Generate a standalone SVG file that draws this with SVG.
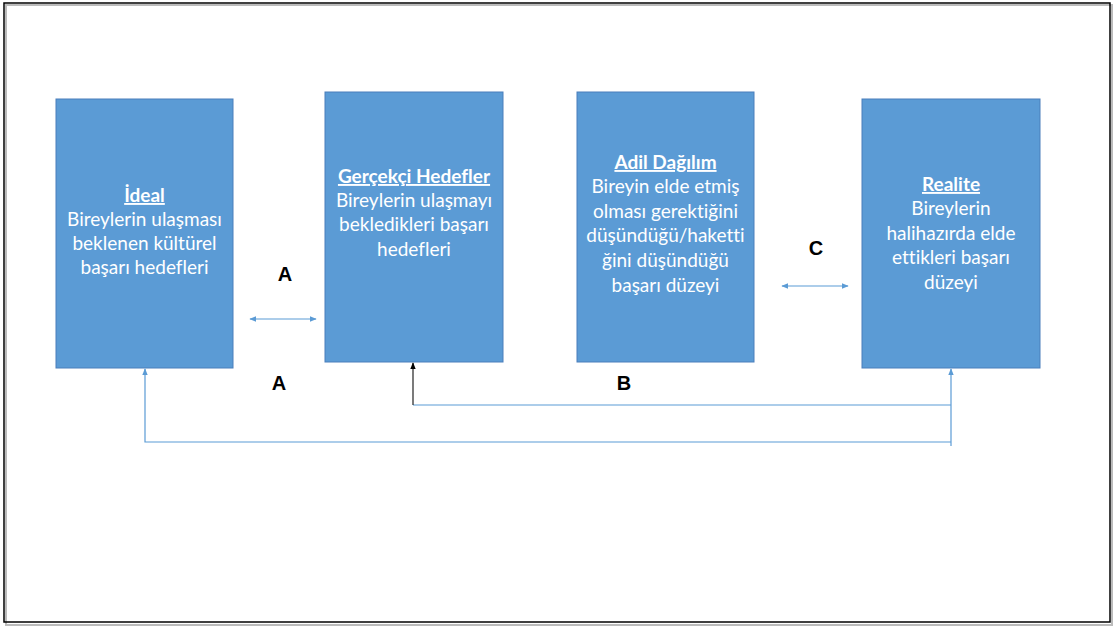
<svg xmlns="http://www.w3.org/2000/svg" width="1115" height="628" viewBox="0 0 1115 628">
<defs>
<style>
.box{fill:#5B9BD5;stroke:#4A7EBB;stroke-width:1}
.t{font-family:Lato,"Open Sans",sans-serif;font-size:19px;fill:#fff;text-anchor:middle;font-variant-ligatures:none}
.h{font-weight:bold;text-decoration:underline}
.c{fill:none;stroke:#5B9BD5;stroke-width:1.2}
.lbl{font-family:"Liberation Sans",Arial,sans-serif;font-weight:bold;font-size:20px;fill:#000;text-anchor:middle}
</style>
<marker id="ab" viewBox="0 0 10 10" refX="9" refY="5" markerWidth="7" markerHeight="7" orient="auto-start-reverse" markerUnits="userSpaceOnUse"><path d="M0,1 L10,5 L0,9 z" fill="#5B9BD5"/></marker>
<marker id="ak" viewBox="0 0 10 10" refX="9" refY="5" markerWidth="7" markerHeight="7" orient="auto" markerUnits="userSpaceOnUse"><path d="M0,1 L10,5 L0,9 z" fill="#000"/></marker>
</defs>
<rect x="0" y="0" width="1115" height="628" fill="#fff"/>
<rect x="6" y="5" width="1106" height="620" fill="none" stroke="#bbb" stroke-width="2"/>
<rect x="4" y="3" width="1106" height="619" fill="none" stroke="#000" stroke-width="1.5"/>

<g id="ideal">
<rect class="box" x="56" y="99" width="177" height="269"/>
<text class="t" x="144.5"><tspan class="h" x="144.5" y="202">İdeal</tspan><tspan x="144.5" y="226">Bireylerin ulaşması</tspan><tspan x="144.5" y="250">beklenen kültürel</tspan><tspan x="144.5" y="274">başarı hedefleri</tspan></text>
</g>
<g id="gercekci">
<rect class="box" x="325" y="92" width="178" height="270"/>
<text class="t" x="414"><tspan class="h" x="414" y="183">Gerçekçi Hedefler</tspan><tspan x="414" y="207">Bireylerin ulaşmayı</tspan><tspan x="414" y="231">bekledikleri başarı</tspan><tspan x="414" y="256">hedefleri</tspan></text>
</g>
<g id="adil">
<rect class="box" x="577" y="92" width="177" height="270"/>
<text class="t" x="665.5"><tspan class="h" x="665.5" y="169">Adil Dağılım</tspan><tspan x="665.5" y="193">Bireyin elde etmiş</tspan><tspan x="665.5" y="218">olması gerektiğini</tspan><tspan x="665.5" y="242">düşündüğü/haketti</tspan><tspan x="665.5" y="267">ğini düşündüğü</tspan><tspan x="665.5" y="292">başarı düzeyi</tspan></text>
</g>
<g id="realite">
<rect class="box" x="862" y="99" width="178" height="269"/>
<text class="t" x="951"><tspan class="h" x="951" y="191">Realite</tspan><tspan x="951" y="215">Bireylerin</tspan><tspan x="951" y="240">halihazırda elde</tspan><tspan x="951" y="264">ettikleri başarı</tspan><tspan x="951" y="289">düzeyi</tspan></text>
</g>

<g id="connectors">
<line class="c" x1="250" y1="319" x2="316" y2="319" marker-start="url(#ab)" marker-end="url(#ab)"/>
<line class="c" x1="782" y1="286" x2="848" y2="286" marker-start="url(#ab)" marker-end="url(#ab)"/>
<line class="c" x1="951" y1="446" x2="951" y2="369" marker-end="url(#ab)"/>
<line class="c" x1="951" y1="405" x2="413" y2="405"/>
<line x1="413" y1="405" x2="413" y2="363" stroke="#222" stroke-width="1.2" marker-end="url(#ak)"/>
<polyline class="c" points="951,442 145,442 145,369" marker-end="url(#ab)"/>
</g>

<g id="labels">
<text class="lbl" x="285" y="281">A</text>
<text class="lbl" x="279" y="390">A</text>
<text class="lbl" x="624" y="390">B</text>
<text class="lbl" x="816" y="255">C</text>
</g>
</svg>
